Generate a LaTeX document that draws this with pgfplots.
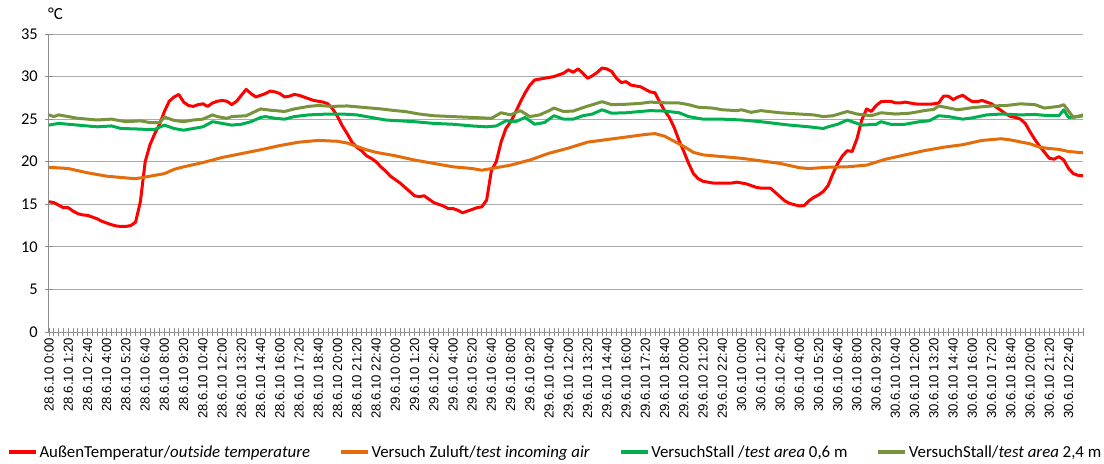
\documentclass[border=0pt]{standalone}
\usepackage{pgfplots}
\pgfplotsset{compat=1.18}
\usepackage{fontspec}
\setmainfont{Carlito}
\newfontfamily\xfont{Liberation Sans}
\definecolor{cRed}{RGB}{255,0,0}
\definecolor{cOrange}{RGB}{228,108,10}
\definecolor{cGreen}{RGB}{0,176,80}
\definecolor{cOlive}{RGB}{119,147,60}
\definecolor{cGrid}{RGB}{170,170,170}
\definecolor{cAxis}{RGB}{140,140,140}
\begin{document}
\begin{tikzpicture}
\useasboundingbox (-49bp,-132bp) rectangle (1055bp,332bp);
\begin{axis}[
  scale only axis, width=1034bp, height=298bp,
  xmin=0, xmax=215, ymin=0, ymax=35,
  ytick={0,5,...,35},
  xtick={0,4,...,212},
  minor xtick={0,1,...,215},
  xticklabels={28.6.10 0:00,28.6.10 1:20,28.6.10 2:40,28.6.10 4:00,28.6.10 5:20,28.6.10 6:40,28.6.10 8:00,28.6.10 9:20,28.6.10 10:40,28.6.10 12:00,28.6.10 13:20,28.6.10 14:40,28.6.10 16:00,28.6.10 17:20,28.6.10 18:40,28.6.10 20:00,28.6.10 21:20,28.6.10 22:40,
  29.6.10 0:00,29.6.10 1:20,29.6.10 2:40,29.6.10 4:00,29.6.10 5:20,29.6.10 6:40,29.6.10 8:00,29.6.10 9:20,29.6.10 10:40,29.6.10 12:00,29.6.10 13:20,29.6.10 14:40,29.6.10 16:00,29.6.10 17:20,29.6.10 18:40,29.6.10 20:00,29.6.10 21:20,29.6.10 22:40,
  30.6.10 0:00,30.6.10 1:20,30.6.10 2:40,30.6.10 4:00,30.6.10 5:20,30.6.10 6:40,30.6.10 8:00,30.6.10 9:20,30.6.10 10:40,30.6.10 12:00,30.6.10 13:20,30.6.10 14:40,30.6.10 16:00,30.6.10 17:20,30.6.10 18:40,30.6.10 20:00,30.6.10 21:20,30.6.10 22:40},
  xticklabel style={rotate=90, anchor=east, font=\xfont\fontsize{13.2}{14}\selectfont, inner sep=0pt},
  yticklabel={\pgfmathprintnumber{\tick}\kern7bp},
  yticklabel style={font=\fontsize{16.5}{18}\selectfont, inner sep=0pt, anchor=east},
  xticklabel shift=2bp,
  /pgf/number format/assume math mode=true,
  ymajorgrids, major grid style={cGrid, line width=1bp},
  axis lines*=left,
  axis line style={cAxis, line width=1bp},
  tick style={cAxis, line width=0.8bp},
  tick align=center, major tick length=8bp, minor tick length=8bp,
  legend columns=4,
  legend style={draw=none, fill=none, at={(0.4895,-0.4027)}, anchor=center, font=\fontsize{16.9}{19}\selectfont, inner sep=0pt,
    /tikz/every even column/.append style={column sep=27bp}},
  legend cell align=left,
  legend image code/.code={\draw[#1, line width=3.5bp] (0bp,0bp) -- (27bp,0bp);},
  every axis plot/.append style={line width=3bp, line join=round},
]
\addplot[cRed] coordinates {(0,15.3)(1,15.2)(2,14.9)(3,14.6)(4,14.6)(5,14.2)(6,13.9)(7,13.75)(8,13.7)(9,13.5)(10,13.3)(11,13.0)(12,12.8)(13,12.6)(14,12.45)(15,12.4)(16,12.4)(17,12.5)(18,12.9)(19,15.3)(20,20.0)(21,22.0)(22,23.3)(23,24.4)(24,25.9)(25,27.1)(26,27.6)(27,27.9)(28,27.0)(29,26.6)(30,26.5)(31,26.7)(32,26.8)(33,26.5)(34,26.9)(35,27.1)(36,27.2)(37,27.1)(38,26.7)(39,27.1)(40,27.8)(41,28.5)(42,28.0)(43,27.6)(44,27.8)(45,28.0)(46,28.3)(47,28.2)(48,28.0)(49,27.6)(50,27.7)(51,27.9)(52,27.8)(53,27.6)(54,27.4)(55,27.2)(56,27.1)(57,27.0)(58,26.8)(59,26.2)(60,25.3)(61,24.2)(62,23.3)(63,22.3)(64,21.7)(65,21.3)(66,20.7)(67,20.4)(68,20.0)(69,19.4)(70,18.9)(71,18.3)(72,17.9)(73,17.5)(74,17.0)(75,16.5)(76,16.0)(77,15.9)(78,16.0)(79,15.6)(80,15.2)(81,15.0)(82,14.8)(83,14.5)(84,14.5)(85,14.3)(86,14.0)(87,14.2)(88,14.4)(89,14.6)(90,14.7)(91,15.5)(92,19.0)(93,20.0)(94,22.3)(95,23.9)(96,24.7)(97,25.8)(98,27.0)(99,28.1)(100,29.0)(101,29.6)(102,29.7)(103,29.8)(104,29.9)(105,30.0)(106,30.2)(107,30.4)(108,30.8)(109,30.5)(110,30.9)(111,30.4)(112,29.8)(113,30.1)(114,30.5)(115,31.0)(116,30.9)(117,30.6)(118,29.8)(119,29.3)(120,29.4)(121,29.0)(122,28.9)(123,28.8)(124,28.5)(125,28.2)(126,28.1)(127,27.0)(128,26.0)(129,25.2)(130,24.0)(131,22.5)(132,21.2)(133,19.8)(134,18.6)(135,18.0)(136,17.7)(137,17.6)(138,17.5)(139,17.5)(140,17.5)(141,17.5)(142,17.5)(143,17.6)(144,17.5)(145,17.4)(146,17.2)(147,17.0)(148,16.9)(149,16.9)(150,16.9)(151,16.4)(152,15.9)(153,15.4)(154,15.1)(155,14.95)(156,14.8)(157,14.85)(158,15.4)(159,15.8)(160,16.1)(161,16.5)(162,17.2)(163,18.6)(164,19.8)(165,20.7)(166,21.3)(167,21.2)(168,22.7)(169,24.9)(170,26.2)(171,25.9)(172,26.6)(173,27.05)(174,27.1)(175,27.1)(176,26.9)(177,26.9)(178,27.0)(179,26.9)(180,26.8)(181,26.75)(182,26.75)(183,26.75)(184,26.8)(185,26.9)(186,27.7)(187,27.7)(188,27.3)(189,27.6)(190,27.8)(191,27.4)(192,27.05)(193,27.05)(194,27.2)(195,27.0)(196,26.8)(197,26.4)(198,26.0)(199,25.6)(200,25.3)(201,25.2)(202,25.0)(203,24.5)(204,23.5)(205,22.6)(206,21.8)(207,21.1)(208,20.4)(209,20.3)(210,20.6)(211,20.2)(212,19.2)(213,18.6)(214,18.4)(215,18.35)};
\addlegendentry{AußenTemperatur/\textit{outside temperature}}
\addplot[cOrange] coordinates {(0,19.35)(4,19.2)(8,18.7)(12,18.3)(16,18.1)(18,18.0)(20,18.2)(24,18.6)(26,19.1)(28,19.4)(32,19.9)(36,20.5)(40,20.95)(44,21.4)(48,21.9)(52,22.3)(56,22.5)(60,22.4)(62,22.2)(64,21.8)(66,21.4)(68,21.1)(72,20.7)(76,20.2)(80,19.8)(84,19.4)(88,19.2)(90,19.0)(92,19.2)(96,19.6)(100,20.2)(104,21.0)(108,21.6)(112,22.3)(116,22.6)(120,22.9)(124,23.2)(126,23.3)(128,23.0)(130,22.4)(132,21.8)(134,21.1)(136,20.8)(140,20.6)(144,20.4)(148,20.1)(152,19.8)(156,19.3)(158,19.2)(162,19.35)(166,19.4)(170,19.6)(174,20.3)(178,20.8)(182,21.3)(186,21.7)(190,22.0)(194,22.5)(198,22.7)(200,22.55)(204,22.1)(206,21.7)(208,21.55)(210,21.45)(212,21.2)(215,21.05)};
\addlegendentry{Versuch Zuluft/\textit{test incoming air}}
\addplot[cGreen] coordinates {(0,24.3)(2,24.5)(6,24.3)(10,24.1)(13,24.2)(15,23.9)(18,23.85)(20,23.8)(22,23.8)(24,24.3)(26,23.9)(28,23.7)(30,23.9)(32,24.1)(34,24.7)(36,24.5)(38,24.3)(40,24.4)(42,24.7)(44,25.2)(45,25.3)(47,25.1)(49,25.0)(51,25.3)(54,25.5)(58,25.6)(61,25.6)(64,25.5)(67,25.2)(70,24.9)(73,24.8)(76,24.7)(80,24.5)(84,24.4)(88,24.2)(91,24.1)(93,24.2)(95,24.8)(97,24.7)(99,25.2)(101,24.4)(103,24.6)(105,25.4)(107,25.0)(109,25.0)(111,25.4)(113,25.6)(115,26.1)(117,25.7)(120,25.75)(123,25.9)(125,26.0)(128,25.95)(131,25.75)(133,25.3)(136,25.0)(140,25.0)(144,24.9)(148,24.7)(151,24.5)(154,24.3)(158,24.1)(161,23.9)(162,24.1)(164,24.4)(166,24.9)(167,24.7)(169,24.3)(172,24.4)(173,24.7)(175,24.4)(178,24.4)(181,24.7)(183,24.8)(185,25.4)(187,25.3)(190,25.0)(192,25.15)(195,25.5)(198,25.6)(202,25.5)(205,25.55)(207,25.45)(210,25.4)(211,26.1)(212,25.2)(214,25.3)(215,25.4)};
\addlegendentry{VersuchStall /\textit{test area} 0,6 m}
\addplot[cOlive] coordinates {(0,25.5)(1,25.3)(2,25.5)(4,25.3)(6,25.1)(10,24.9)(13,25.0)(16,24.7)(19,24.8)(21,24.6)(23,24.6)(24,25.25)(26,24.85)(28,24.7)(30,24.9)(32,25.0)(34,25.5)(35,25.3)(37,25.1)(38,25.3)(41,25.4)(44,26.2)(46,26.05)(49,25.9)(51,26.2)(54,26.5)(56,26.6)(59,26.5)(62,26.55)(66,26.35)(69,26.2)(72,26.0)(74,25.9)(77,25.6)(80,25.4)(84,25.3)(88,25.2)(92,25.1)(94,25.75)(96,25.5)(98,26.0)(100,25.3)(102,25.5)(104,26.0)(105,26.3)(107,25.9)(109,25.95)(111,26.35)(113,26.7)(115,27.05)(117,26.7)(120,26.75)(123,26.85)(125,27.0)(129,26.9)(131,26.9)(133,26.7)(135,26.4)(138,26.3)(140,26.1)(143,26.0)(144,26.1)(146,25.8)(148,26.0)(152,25.75)(156,25.6)(159,25.5)(161,25.3)(163,25.4)(166,25.9)(168,25.6)(171,25.4)(173,25.75)(176,25.6)(179,25.7)(182,26.0)(184,26.15)(185,26.55)(189,26.1)(192,26.35)(196,26.55)(199,26.6)(202,26.8)(205,26.7)(207,26.3)(210,26.5)(211,26.7)(213,25.2)(215,25.5)};
\addlegendentry{VersuchStall/\textit{test area} 2,4 m}
\end{axis}
\node[anchor=base west, inner sep=0pt, font=\fontsize{17}{19}\selectfont] at (-1bp,312bp) {°C};
\end{tikzpicture}
\end{document}
